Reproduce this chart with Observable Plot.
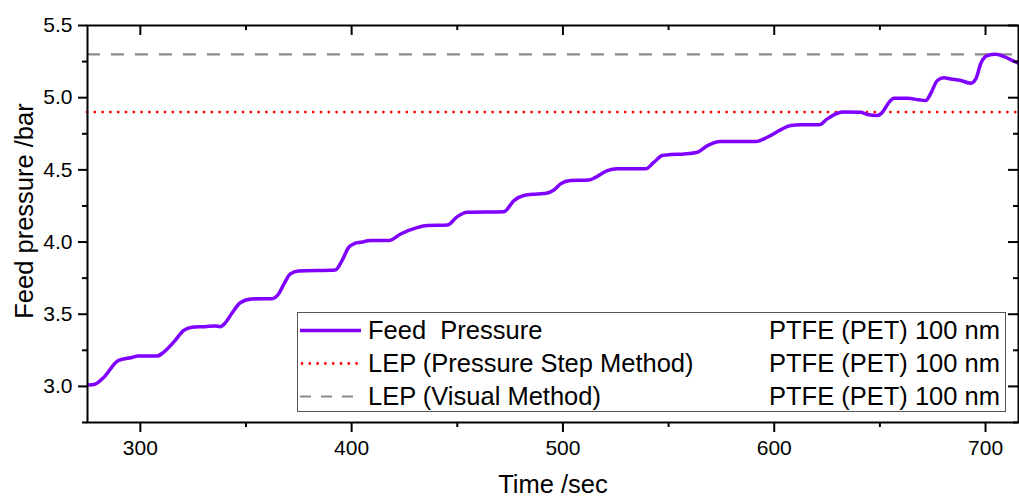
<!DOCTYPE html>
<html>
<head>
<meta charset="utf-8">
<script src="https://cdn.jsdelivr.net/npm/d3@7"></script>
<script src="https://cdn.jsdelivr.net/npm/@observablehq/plot@0.6"></script>
<style>
  html, body { margin: 0; padding: 0; background: white; }
  #wrap { position: relative; width: 1019px; height: 497px; overflow: hidden; font-family: "Liberation Sans", Arial, sans-serif; }
  #legend { position: absolute; left: 297px; top: 312px; width: 709px; height: 100px; background: white; border: 1.3px solid #555; box-sizing: border-box; }
  .row { position: absolute; left: 0; height: 33px; width: 100%; font-size: 25.5px; line-height: 33px; color: #000; white-space: pre; }
  .row svg { position: absolute; left: 2px; top: 0; }
  .row .lab { position: absolute; left: 70px; top: 0; }
  .row .mat { position: absolute; right: 5px; top: 0; }
  .title { position: absolute; font-size: 25.5px; line-height: 26px; color: #000; white-space: pre; }
  #xtitle { left: 453px; width: 200px; top: 471px; text-align: center; }
  #ytitle { left: -126px; width: 300px; top: 198px; text-align: center; transform: rotate(-90deg); transform-origin: 150px 13px; }
</style>
</head>
<body>
<div id="wrap"></div>
<script>
// ---- data ----
const timeSec = [275.5, 278.5, 282.5, 289.7, 296, 299, 307.8, 311, 316, 320.4, 324.4, 330.7, 335.4, 337.8, 340.2, 343.5, 347.3, 352.8, 362.3, 365.4, 368, 371, 374.9, 392.3, 395.4, 398.6, 401.5, 404.2, 409, 417.6, 423.2, 431, 435.8, 445.3, 450, 454.7, 472, 476.8, 481.5, 487.8, 492.6, 495.7, 498.9, 503.6, 512.3, 514.7, 521, 525.7, 539.1, 543.1, 547, 551, 557.3, 563.6, 568.4, 574.6, 591.2, 596.7, 603, 607.8, 612.5, 621.2, 625.1, 629.9, 633, 640.9, 644.1, 648.8, 651.2, 654.3, 656.7, 663, 668.5, 671.7, 674, 677.2, 680.3, 683.5, 688.3, 693, 695.4, 697.7, 700.9, 704.8, 708.8, 712.8, 715.6];
const feedPressure = [3.01, 3.015, 3.06, 3.18, 3.20, 3.21, 3.21, 3.236, 3.31, 3.386, 3.41, 3.414, 3.419, 3.414, 3.44, 3.51, 3.58, 3.606, 3.608, 3.64, 3.71, 3.779, 3.80, 3.807, 3.87, 3.963, 3.99, 3.998, 4.01, 4.01, 4.056, 4.10, 4.114, 4.118, 4.176, 4.206, 4.21, 4.287, 4.322, 4.333, 4.34, 4.36, 4.403, 4.426, 4.43, 4.442, 4.495, 4.507, 4.507, 4.553, 4.599, 4.606, 4.61, 4.622, 4.668, 4.696, 4.696, 4.726, 4.777, 4.807, 4.812, 4.812, 4.853, 4.892, 4.90, 4.899, 4.883, 4.876, 4.899, 4.968, 4.996, 4.996, 4.985, 4.98, 5.027, 5.119, 5.138, 5.13, 5.119, 5.10, 5.13, 5.235, 5.292, 5.30, 5.285, 5.257, 5.239];
const lepStepMethod = 4.9;
const lepVisualMethod = 5.3;
const xMajorTicks = [300, 400, 500, 600, 700];
const xMinorTicks = [350, 450, 550, 650];
const yMajorTicks = [3.0, 3.5, 4.0, 4.5, 5.0, 5.5];
const yMinorTicks = [2.75, 3.25, 3.75, 4.25, 4.75, 5.25];
const xTitle = "Time /sec";
const yTitle = "Feed pressure /bar";
const legendLabels = ["Feed  Pressure", "LEP (Pressure Step Method)", "LEP (Visual Method)"];
const legendMaterial = "PTFE (PET) 100 nm";

const purple = "#7f00ff";
const series = timeSec.map((t, i) => ({t, p: feedPressure[i]}));
const noText = () => "";
const W = 1019, H = 497, mT = 25, mB = 75, mL = 87, mR = 1;
const innerW = W - mL - mR, innerH = H - mT - mB;

const plot = Plot.plot({
  width: W,
  height: H,
  marginTop: mT,
  marginBottom: mB,
  marginLeft: mL,
  marginRight: mR,
  x: {domain: [275, 715.6]},
  y: {domain: [2.75, 5.5]},
  style: {fontFamily: "'Liberation Sans', Arial, sans-serif", fontSize: "21px", color: "black", background: "white"},
  marks: [
    Plot.ruleY([lepVisualMethod], {stroke: "#8a8a8a", strokeWidth: 2.2, strokeDasharray: "13 11"}),
    Plot.ruleY([lepStepMethod], {stroke: "#ff0000", strokeWidth: 2.8, strokeDasharray: "0 7.8", strokeLinecap: "round"}),
    Plot.line(series, {x: "t", y: "p", stroke: purple, strokeWidth: 3.5, curve: "monotone-x"}),
    Plot.frame({stroke: "black", strokeWidth: 2}),
    // bottom
    Plot.axisX(xMajorTicks, {anchor: "bottom", tickSize: 10, tickPadding: 8, strokeWidth: 2, fontSize: 21, label: null, tickFormat: d => String(d)}),
    Plot.axisX(xMinorTicks, {anchor: "bottom", tickSize: 5, strokeWidth: 2, label: null, tickFormat: noText}),
    // top (inward)
    Plot.tickX(xMajorTicks, {x: d => d, stroke: "black", strokeWidth: 2, insetBottom: innerH - 10}),
    Plot.tickX(xMinorTicks, {x: d => d, stroke: "black", strokeWidth: 2, insetBottom: innerH - 5}),
    // left
    Plot.axisY(yMajorTicks, {anchor: "left", tickSize: 9, tickPadding: 6, strokeWidth: 2, fontSize: 21, label: null, tickFormat: d => d.toFixed(1)}),
    Plot.axisY(yMinorTicks, {anchor: "left", tickSize: 5, strokeWidth: 2, label: null, tickFormat: noText}),
    // right (inward)
    Plot.tickY(yMajorTicks, {y: d => d, stroke: "black", strokeWidth: 2, insetLeft: innerW - 10}),
    Plot.tickY(yMinorTicks, {y: d => d, stroke: "black", strokeWidth: 2, insetLeft: innerW - 5})
  ]
});

const wrap = document.getElementById("wrap");
wrap.appendChild(plot);

const xt = document.createElement("div");
xt.className = "title"; xt.id = "xtitle"; xt.textContent = xTitle;
wrap.appendChild(xt);
const yt = document.createElement("div");
yt.className = "title"; yt.id = "ytitle"; yt.textContent = yTitle;
wrap.appendChild(yt);

// legend
const legend = document.createElement("div");
legend.id = "legend";
const samples = [
  `<line x1="0" y1="16.5" x2="61" y2="16.5" stroke="${purple}" stroke-width="3.5"/>`,
  `<line x1="2" y1="16.5" x2="60" y2="16.5" stroke="#ff0000" stroke-width="2.8" stroke-dasharray="0 7.8" stroke-linecap="round"/>`,
  `<line x1="0" y1="16.5" x2="62" y2="16.5" stroke="#8a8a8a" stroke-width="2.2" stroke-dasharray="11 10"/>`
];
legendLabels.forEach((lab, i) => {
  const row = document.createElement("div");
  row.className = "row";
  row.style.top = (1 + i * 33) + "px";
  row.innerHTML = `<svg width="64" height="33">${samples[i]}</svg><span class="lab">${lab}</span><span class="mat">${legendMaterial}</span>`;
  legend.appendChild(row);
});
wrap.appendChild(legend);
</script>
</body>
</html>
